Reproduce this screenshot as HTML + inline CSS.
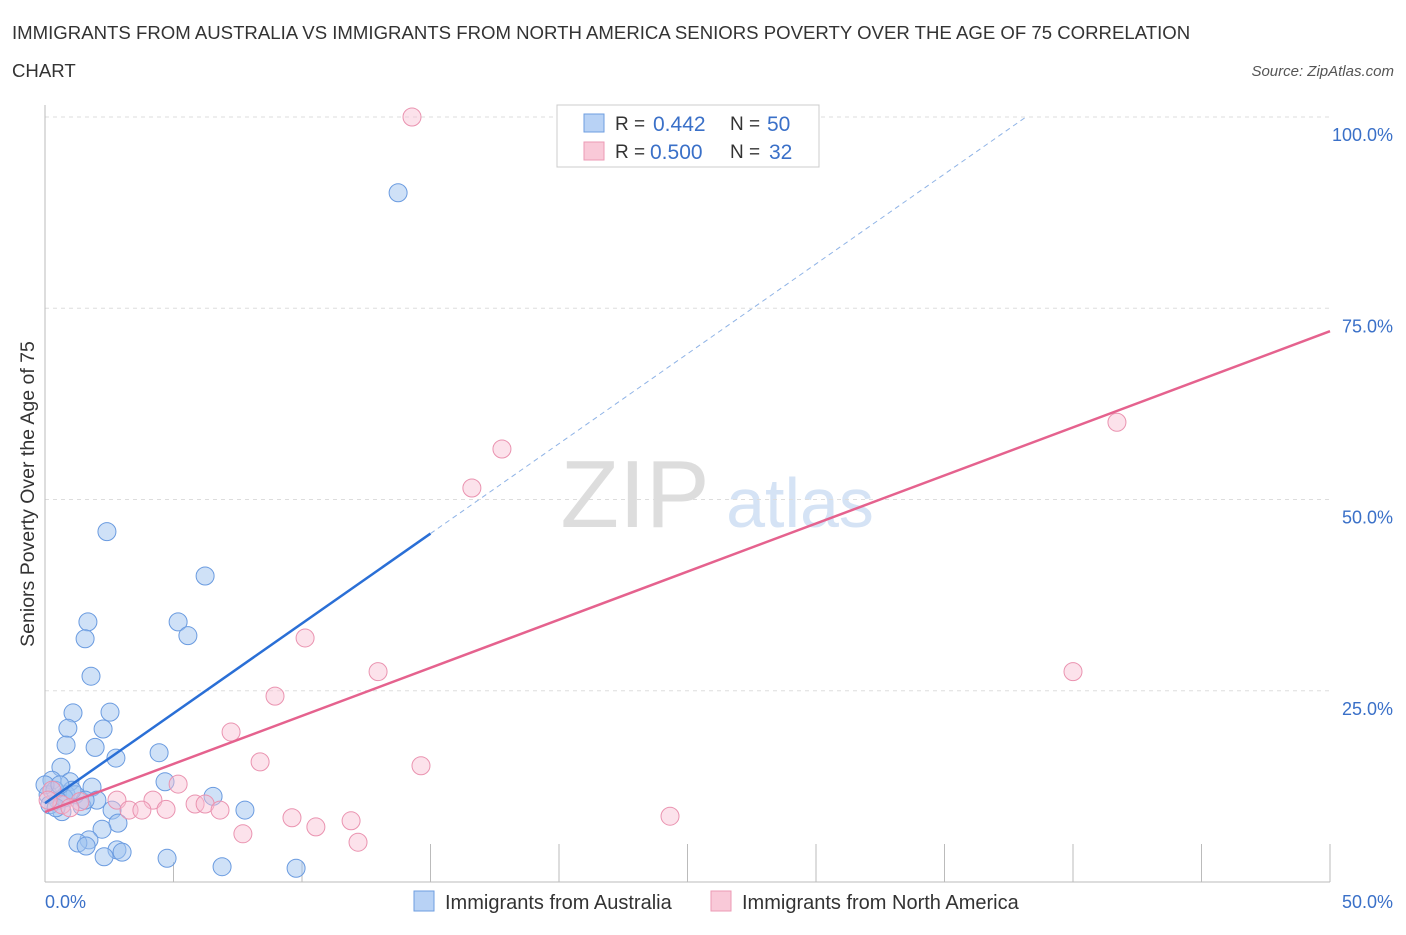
<!DOCTYPE html>
<html><head><meta charset="utf-8"><style>
body{margin:0;background:#fff;font-family:"Liberation Sans",sans-serif;}
svg text{font-family:"Liberation Sans",sans-serif;}
</style></head><body>
<svg id="chart" width="1406" height="930" xmlns="http://www.w3.org/2000/svg">
<text x="12" y="39" font-size="18.6" fill="#333">IMMIGRANTS FROM AUSTRALIA VS IMMIGRANTS FROM NORTH AMERICA SENIORS POVERTY OVER THE AGE OF 75 CORRELATION</text>
<text x="12" y="77" font-size="18.6" fill="#333">CHART</text>
<text x="1394" y="76" font-size="15" fill="#555" font-style="italic" text-anchor="end">Source: ZipAtlas.com</text>
<text x="635" y="527" font-size="96" fill="#ddd" font-family="Liberation Serif" text-anchor="middle">ZIP</text>
<text x="800" y="527" font-size="70" fill="#d5e3f5" text-anchor="middle">atlas</text>
<g id="grid"></g>
<g id="marks"></g>
<text transform="translate(34,494) rotate(-90)" font-size="19.5" fill="#333" text-anchor="middle">Seniors Poverty Over the Age of 75</text>
<text x="45" y="908" font-size="18" fill="#3a70c8">0.0%</text>
<text x="1393" y="908" font-size="18" fill="#3a70c8" text-anchor="end">50.0%</text>
<g>
<rect x="557" y="105" width="262" height="62" fill="#fff" stroke="#ccc"/>
<rect x="584" y="114" width="20" height="18" fill="#b8d2f5" stroke="#6e9ee0"/>
<rect x="584" y="142" width="20" height="18" fill="#f9c9d8" stroke="#ec9ab5"/>
<text x="615" y="130" font-size="19" fill="#333">R =</text>
<text x="653" y="131" font-size="21" fill="#3a70c8">0.442</text>
<text x="730" y="130" font-size="19" fill="#333">N =</text>
<text x="767" y="131" font-size="21" fill="#3a70c8">50</text>
<text x="615" y="158" font-size="19" fill="#333">R =</text>
<text x="650" y="159" font-size="21" fill="#3a70c8">0.500</text>
<text x="730" y="158" font-size="19" fill="#333">N =</text>
<text x="769" y="159" font-size="21" fill="#3a70c8">32</text>
</g>
<g>
<rect x="414" y="891" width="20" height="20" fill="#b8d2f5" stroke="#6e9ee0"/>
<text x="445" y="909" font-size="20" fill="#333">Immigrants from Australia</text>
<rect x="711" y="891" width="20" height="20" fill="#f9c9d8" stroke="#ec9ab5"/>
<text x="742" y="909" font-size="20" fill="#333">Immigrants from North America</text>
</g>
</svg>
<script>
const blueX=[13.74,2.41,6.23,1.67,5.18,1.56,5.56,1.79,2.53,1.09,0.89,2.26,0.82,1.95,4.44,2.76,0.62,4.67,0.27,0.97,1.83,6.54,7.78,0.51,0.82,2.02,1.44,2.61,0.66,0.12,0.19,0.39,2.84,2.22,1.71,1.28,1.6,2.8,3.0,2.3,4.75,6.89,9.77,0,1.17,0.74,0.43,1.56,1.05,0.58];
const blueY=[90.1,45.8,40.0,34.0,34.0,31.8,32.2,26.9,22.2,22.1,20.1,20.0,17.9,17.6,16.9,16.2,15.0,13.1,13.3,13.1,12.4,11.2,9.4,10.7,11.4,10.7,9.9,9.4,9.2,11.4,10.1,12.0,7.7,6.9,5.5,5.1,4.7,4.2,3.9,3.3,3.1,2.0,1.8,12.7,11.4,11.0,9.7,10.7,12.0,12.7];
const pinkX=[14.28,20.66,41.71,17.78,16.61,10.12,12.96,40.0,8.95,7.24,8.37,14.63,5.18,4.2,5.84,6.23,4.71,6.81,2.8,3.27,3.77,24.32,9.61,11.91,10.54,7.7,12.18,1.36,0.66,0.27,0.12,0.97];
const pinkY=[100,100,60.1,56.6,51.5,31.9,27.5,27.5,24.3,19.6,15.7,15.2,12.8,10.7,10.2,10.2,9.5,9.4,10.7,9.4,9.4,8.6,8.4,8.0,7.2,6.3,5.2,10.5,10.1,12.0,10.7,9.7];
const blueTrend=[10.3,2.35];
const pinkTrend=[9.15,1.257];
const yTicks=[25,50,75,100];
const yTickLabels=["25.0%","50.0%","75.0%","100.0%"];
const xTicks=[5,10,15,20,25,30,35,40,45,50];

const NS="http://www.w3.org/2000/svg";
const sx=v=>45+v/50*1285;
const sy=v=>882-v/100*765;
function mk(tag,attrs,parent){const e=document.createElementNS(NS,tag);for(const k in attrs)e.setAttribute(k,attrs[k]);parent.appendChild(e);return e;}
const grid=document.getElementById('grid'),marks=document.getElementById('marks');
yTicks.forEach((t,i)=>{
 const l=mk('line',{x1:45,x2:1330,y1:sy(t),y2:sy(t),stroke:'#ddd','stroke-dasharray':'4,4'},grid);
 
 
 const tx=mk('text',{x:1393,y:sy(t)+24,'font-size':18,fill:'#3a70c8','text-anchor':'end'},grid);
 tx.textContent=yTickLabels[i];
 
 
});
xTicks.forEach(t=>{
 const l=mk('line',{x1:sx(t),x2:sx(t),y1:t<15?862:844,y2:882,stroke:'#bbb'},grid);
 
 
});
const ya=mk('line',{x1:45,x2:45,y1:105,y2:882,stroke:'#bbb'},grid);


const xa=mk('line',{x1:45,x2:1330,y1:882,y2:882,stroke:'#bbb'},grid);



blueX.forEach((x,i)=>{
 const c=mk('circle',{cx:sx(x),cy:sy(blueY[i]),r:9,fill:'rgba(160,196,240,0.5)',stroke:'#6a9be0','stroke-width':1},marks);
 
 
});
pinkX.forEach((x,i)=>{
 const c=mk('circle',{cx:sx(x),cy:sy(pinkY[i]),r:9,fill:'rgba(248,190,210,0.45)',stroke:'#ea93b0','stroke-width':1},marks);
 
 
});
const bl=mk('line',{x1:sx(0),y1:sy(blueTrend[0]),x2:sx(15),y2:sy(blueTrend[0]+15*blueTrend[1]),stroke:'#2a6fd6','stroke-width':2.5},marks);


const xe=(100-blueTrend[0])/blueTrend[1];
const bd=mk('line',{x1:sx(15),y1:sy(blueTrend[0]+15*blueTrend[1]),x2:sx(xe),y2:sy(100),stroke:'#8fb3e6','stroke-width':1,'stroke-dasharray':'5,4'},marks);


const pl=mk('line',{x1:sx(0),y1:sy(pinkTrend[0]),x2:sx(50),y2:sy(pinkTrend[0]+50*pinkTrend[1]),stroke:'#e5628e','stroke-width':2.5},marks);


</script>
</body></html>
